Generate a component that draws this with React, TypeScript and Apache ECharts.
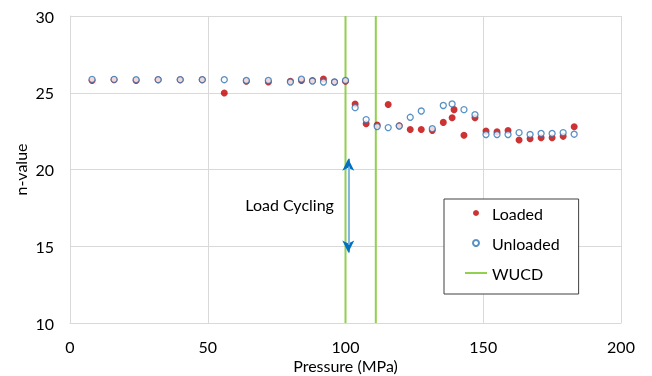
import React, { useEffect, useRef } from "react";
import * as echarts from "echarts";

const X_TICKS = [0, 50, 100, 150, 200];
const Y_TICKS = [10, 15, 20, 25, 30];

const LOADED_P = [8, 16, 24, 32, 40, 48, 56, 64, 72, 80, 84, 88, 92, 96, 100, 103.5, 107.5, 111.5, 115.5, 119.5, 123.5, 127.5, 131.5, 135.5, 138.7, 139.4, 143, 147, 151, 155, 159, 163, 167, 171, 175, 179, 183];
const LOADED_N = [25.8, 25.85, 25.8, 25.85, 25.85, 25.85, 24.98, 25.75, 25.7, 25.75, 25.8, 25.8, 25.9, 25.7, 25.75, 24.27, 22.98, 22.9, 24.24, 22.85, 22.61, 22.61, 22.55, 23.07, 23.37, 23.9, 22.23, 23.37, 22.5, 22.45, 22.54, 21.92, 22.0, 22.07, 22.07, 22.16, 22.78];

const UNLOADED_P = [8, 16, 24, 32, 40, 48, 56, 64, 72, 80, 84, 88, 92, 96, 100, 103.5, 107.5, 111.5, 115.5, 119.5, 123.5, 127.5, 131.5, 135.5, 138.7, 143, 147, 151, 155, 159, 163, 167, 171, 175, 179, 183];
const UNLOADED_N = [25.87, 25.87, 25.85, 25.85, 25.85, 25.85, 25.85, 25.8, 25.8, 25.7, 25.88, 25.76, 25.7, 25.7, 25.8, 24.03, 23.25, 22.8, 22.73, 22.83, 23.4, 23.81, 22.66, 24.17, 24.27, 23.9, 23.57, 22.28, 22.28, 22.28, 22.4, 22.28, 22.35, 22.35, 22.4, 22.3];

const WUCD_X = [100, 111];

const CYCLE_X = 101;
const CYCLE_TOP = 20.7;
const CYCLE_BOTTOM = 14.6;
const CYCLE_LABEL_POS = [79.7, 17.7];

const FONT = "Lato";

export default function App() {
  const ref = useRef<HTMLDivElement>(null);
  useEffect(() => {
    if (!ref.current) return;
    const chart = echarts.init(ref.current, null, { renderer: "svg" });
    const loaded = LOADED_P.map((p, i) => [p, LOADED_N[i]]);
    const unloaded = UNLOADED_P.map((p, i) => [p, UNLOADED_N[i]]);
    const wucd: any[] = [];
    WUCD_X.forEach((x, i) => {
      if (i > 0) wucd.push(["-", "-"]);
      wucd.push([x, Y_TICKS[0]]);
      wucd.push([x, Y_TICKS[Y_TICKS.length - 1]]);
    });
    chart.setOption({
      animation: false,
      textStyle: { fontFamily: FONT },
      grid: { left: 70, right: 31, top: 16, bottom: 53, outerBoundsMode: "none", containLabel: false },
      xAxis: {
        type: "value",
        min: X_TICKS[0],
        max: X_TICKS[X_TICKS.length - 1],
        interval: 50,
        name: "Pressure (MPa)",
        nameLocation: "middle",
        nameGap: 34,
        nameMoveOverlap: false,
        nameTextStyle: { fontSize: 16, color: "#000", fontFamily: FONT },
        axisLine: { show: true, lineStyle: { color: "#d9d9d9", width: 1 } },
        axisTick: { show: false },
        axisLabel: { fontSize: 16, color: "#000", margin: 15, fontFamily: FONT },
        splitLine: { show: true, lineStyle: { color: "#d9d9d9", width: 1 } },
      },
      yAxis: {
        type: "value",
        min: Y_TICKS[0],
        max: Y_TICKS[Y_TICKS.length - 1],
        interval: 5,
        name: "n-value",
        nameLocation: "middle",
        nameGap: 42,
        nameMoveOverlap: false,
        nameTextStyle: { fontSize: 16, color: "#000", fontFamily: FONT },
        axisLine: { show: true, lineStyle: { color: "#d9d9d9", width: 1 } },
        axisTick: { show: false },
        axisLabel: { fontSize: 16, color: "#000", margin: 16, fontFamily: FONT },
        splitLine: { show: true, lineStyle: { color: "#d9d9d9", width: 1 } },
      },
      legend: {
        orient: "vertical",
        left: 444,
        top: 199,
        padding: [6, 19, 13, 20],
        itemGap: 14,
        itemWidth: 22,
        itemHeight: 6,
        borderColor: "#404040",
        borderWidth: 1,
        backgroundColor: "#fff",
        textStyle: { fontSize: 16, color: "#000", fontFamily: FONT },
        data: [
          { name: "Loaded", icon: "circle" },
          { name: "Unloaded", icon: "circle" },
          { name: "WUCD", itemStyle: { opacity: 0 } },
        ],
      },
      series: [
        {
          name: "WUCD",
          type: "line",
          data: wucd,
          symbol: "none",
          connectNulls: false,
          lineStyle: { color: "#92D050", width: 2 },
          itemStyle: { color: "#92D050" },
          z: 1,
        },
        {
          name: "Loaded",
          type: "scatter",
          data: loaded,
          symbol: "circle",
          symbolSize: 7,
          itemStyle: { color: "#C00000" },
          z: 2,
          markLine: {
            silent: true,
            symbol: ["arrow", "arrow"],
            symbolSize: [9, 12],
            label: { show: false },
            lineStyle: { color: "#0070C0", width: 1.5, type: "solid" },
            data: [
              [
                { coord: [CYCLE_X, CYCLE_TOP] },
                { coord: [CYCLE_X, CYCLE_BOTTOM] },
              ],
              [
                { coord: [CYCLE_X, CYCLE_TOP - 0.5], symbol: "none", lineStyle: { color: "#9DC3E6", width: 1.5 } },
                { coord: [CYCLE_X, CYCLE_BOTTOM + 0.5], symbol: "none" },
              ],
            ],
          },
          markPoint: {
            silent: true,
            symbol: "circle",
            symbolSize: 0,
            data: [
              {
                coord: CYCLE_LABEL_POS,
                label: {
                  show: true,
                  position: "inside",
                  formatter: "Load Cycling",
                  color: "#000",
                  fontSize: 16,
                  fontFamily: FONT,
                },
              },
            ],
          },
        },
        {
          name: "Unloaded",
          type: "scatter",
          data: unloaded,
          symbol: "circle",
          symbolSize: 6,
          itemStyle: { color: "#fff", borderColor: "#2E75B6", borderWidth: 1.3 },
          z: 3,
        },
      ],
    });
    return () => chart.dispose();
  }, []);
  return (
    <div
      ref={ref}
      style={{ position: "fixed", left: 0, top: 0, width: 652, height: 376 }}
    />
  );
}
